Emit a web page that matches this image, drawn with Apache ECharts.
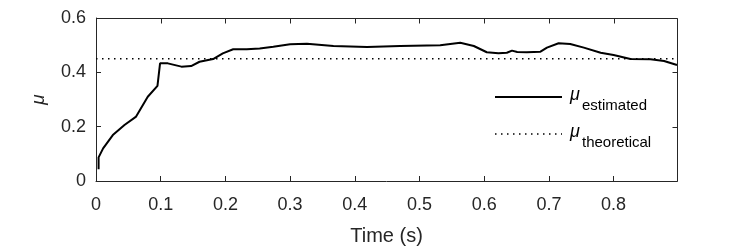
<!DOCTYPE html>
<html>
<head>
<meta charset="utf-8">
<script src="https://cdn.jsdelivr.net/npm/echarts@6/dist/echarts.min.js"></script>
<style>
  html, body { margin: 0; padding: 0; background: #fff; }
  #chart { width: 747px; height: 252px; }
</style>
</head>
<body>
<div id="chart"></div>
<script>
// estimated friction coefficient over time
const time = [0.004, 0.004, 0.011, 0.026, 0.044, 0.062, 0.080, 0.095, 0.099, 0.111, 0.132, 0.147, 0.160, 0.181, 0.196, 0.212, 0.233, 0.253, 0.274, 0.300, 0.326, 0.367, 0.419, 0.470, 0.532, 0.563, 0.584, 0.604, 0.622, 0.635, 0.643, 0.651, 0.666, 0.687, 0.697, 0.715, 0.733, 0.754, 0.780, 0.800, 0.826, 0.857, 0.878, 0.898]
const muEst = [0.043, 0.087, 0.12, 0.169, 0.206, 0.237, 0.31, 0.35, 0.433, 0.433, 0.421, 0.423, 0.439, 0.449, 0.47, 0.485, 0.485, 0.488, 0.494, 0.503, 0.505, 0.497, 0.493, 0.497, 0.5, 0.509, 0.497, 0.474, 0.47, 0.472, 0.48, 0.475, 0.474, 0.476, 0.491, 0.507, 0.504, 0.491, 0.472, 0.464, 0.449, 0.448, 0.442, 0.427]
const thTime = [0, 0.898]
const muTh = [0.45, 0.45]
const xTicks = [0, 0.1, 0.2, 0.3, 0.4, 0.5, 0.6, 0.7, 0.8]
const yTicks = [0, 0.2, 0.4, 0.6]
const xMax = 0.898

const font = 'Liberation Sans, Arial, sans-serif'
const ink = '#262626'
const chart = echarts.init(document.getElementById('chart'))

chart.setOption({
  animation: false,
  grid: { left: 96, right: 70, top: 18, bottom: 71 },
  xAxis: {
    type: 'value', min: 0, max: xMax, interval: 0.1,
    name: 'Time (s)', nameLocation: 'middle', nameGap: 45,
    nameTextStyle: { fontFamily: font, fontSize: 20, color: ink },
    axisLine: { show: true, onZero: false, lineStyle: { color: ink, width: 1 } },
    axisTick: { show: true, inside: true, length: 5, lineStyle: { color: ink } },
    axisLabel: {
      fontFamily: font, fontSize: 18, color: ink, margin: 15,
      showMaxLabel: false,
      formatter: v => String(Math.round(v * 10) / 10)
    },
    splitLine: { show: false }
  },
  yAxis: {
    type: 'value', min: 0, max: 0.6, interval: 0.2,
    name: 'μ', nameLocation: 'middle', nameGap: 48, nameRotate: 90,
    nameTextStyle: { fontFamily: font, fontSize: 19, fontStyle: 'italic', color: ink },
    axisLine: { show: true, onZero: false, lineStyle: { color: ink, width: 1 } },
    axisTick: { show: true, inside: true, length: 5, lineStyle: { color: ink } },
    axisLabel: {
      fontFamily: font, fontSize: 18, color: ink, margin: 10,
      formatter: v => yTicks.includes(Math.round(v * 10) / 10) ? String(Math.round(v * 10) / 10) : ''
    },
    splitLine: { show: false }
  },
  series: [
    {
      name: 'est', type: 'line', symbol: 'none', showSymbol: false,
      data: time.map((t, i) => [t, muEst[i]]),
      lineStyle: { color: '#000', width: 2 }
    },
    {
      name: 'th', type: 'line', symbol: 'none', showSymbol: false,
      data: thTime.map((t, i) => [t, muTh[i]]),
      lineStyle: { color: '#000', width: 1.5, type: [1.5, 4.5] }
    }
  ]
})

// box with inward ticks on all sides, placed from the axis scales
const pxX = v => Math.round(chart.convertToPixel({ xAxisIndex: 0 }, v)) + 0.5
const pxY = v => Math.round(chart.convertToPixel({ yAxisIndex: 0 }, v)) + 0.5
const L = pxX(0), R = pxX(xMax), B = pxY(0), T = pxY(0.6)
const seg = (x1, y1, x2, y2, extra) => ({
  type: 'line', z: 100, silent: true,
  shape: { x1, y1, x2, y2 },
  style: Object.assign({ stroke: ink, lineWidth: 1 }, extra || {})
})
const marks = [seg(L, T, R, T), seg(R, T, R, B)]
xTicks.forEach(v => {
  const x = pxX(v)
  marks.push(seg(x, T, x, T + 5))
})
yTicks.forEach(v => {
  const y = pxY(v)
  marks.push(seg(R, y, R - 5, y))
})

// legend drawn in the MATLAB style: sample line, italic mu, subscript
const legendRows = [
  { sub: 'estimated', y: 97, dash: null, width: 2 },
  { sub: 'theoretical', y: 134, dash: [1.5, 4.5], width: 1.5 }
]
legendRows.forEach(r => {
  marks.push(seg(495, r.y, 562, r.y, { stroke: '#000', lineWidth: r.width, lineDash: r.dash }))
  marks.push({
    type: 'text', z: 100, x: 570, y: r.y - 2,
    style: { text: 'μ', font: 'italic 18px ' + font, fill: '#000', verticalAlign: 'middle' }
  })
  marks.push({
    type: 'text', z: 100, x: 582, y: r.y + 9,
    style: { text: r.sub, font: '15px ' + font, fill: '#000', verticalAlign: 'middle' }
  })
})

chart.setOption({ graphic: marks })
</script>
</body>
</html>
